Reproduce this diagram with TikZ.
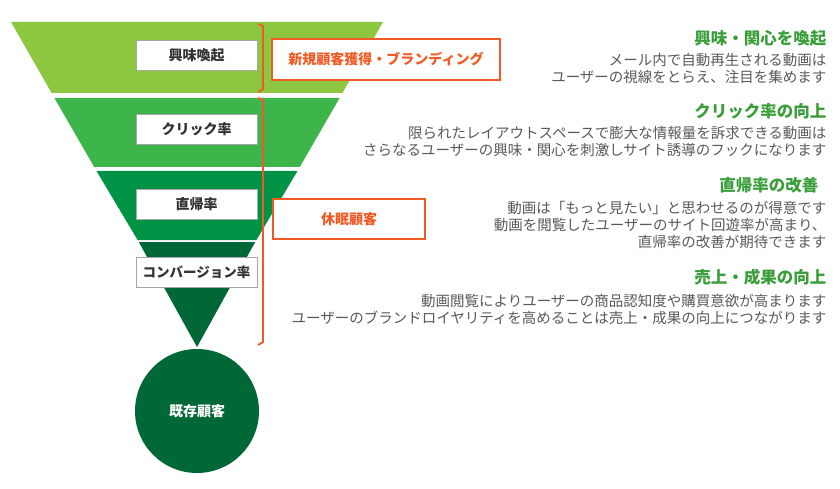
\documentclass[tikz,border=0pt]{standalone}
\usepackage{fontspec}
\setmainfont{Noto Sans CJK JP}
\begin{document}
\begin{tikzpicture}[x=1pt,y=-1pt,
  lbl/.style={draw=black!35,fill=white,line width=0.8pt,minimum width=121pt,minimum height=30pt,inner sep=0pt,font=\fontsize{14}{16}\selectfont\bfseries,text=black!80},
  obox/.style={draw=orng,line width=1.2pt,fill=white,inner sep=0pt,font=\fontsize{14}{16}\selectfont\bfseries,text=orng},
  head/.style={anchor=east,font=\fontsize{16.5}{18}\selectfont\bfseries,text=hgreen},
  body/.style={anchor=east,align=right,font=\fontsize{14.5}{17}\selectfont,text=black!65},
  brk/.style={draw=orng,line width=1.8pt}]
\definecolor{g1}{HTML}{8DC63F}\definecolor{g2}{HTML}{3DB54A}
\definecolor{g3}{HTML}{009245}\definecolor{g4}{HTML}{006837}
\definecolor{orng}{HTML}{F15A24}\definecolor{hgreen}{HTML}{3A9E3A}
\useasboundingbox (0,0) rectangle (840,489);
\fill[g1] (11,22) -- (383,22) -- (342.4,93) -- (51.6,93) -- cycle;
\fill[g2] (54.4,98) -- (339.6,98) -- (299.8,167) -- (94.2,167) -- cycle;
\fill[g3] (96.5,171) -- (297.5,171) -- (256.4,240) -- (137.6,240) -- cycle;
\fill[g4] (138.8,242) -- (255.2,242) -- (197,347) -- cycle;
\fill[g4] (197,411) circle (62);
\node[text=white,font=\fontsize{14}{16}\selectfont\bfseries] (kizon) at (197,411) {既存顧客};
\node[lbl] (l1) at (196.5,55) {興味喚起};
\node[lbl] (l2) at (196.5,129) {クリック率};
\node[lbl] (l3) at (196.5,204) {直帰率};
\node[lbl,font=\fontsize{13.5}{16}\selectfont\bfseries] (l4) at (196.5,272) {コンバージョン率};
\draw[brk] (258,24) -- (263,26) -- (263,89) -- (258,92);
\draw[brk] (258,98) -- (263,100) -- (263,342) -- (258,345);
\node[obox,minimum width=228pt,minimum height=41pt] (o1) at (386,59.5) {新規顧客獲得・ブランディング};
\node[obox,minimum width=152pt,minimum height=40pt] (o2) at (349,219) {休眠顧客};
\node[head] (h1) at (830,38) {興味・関心を喚起};
\node[body] (b1) at (830,68) {メール内で自動再生される動画は\\ユーザーの視線をとらえ、注目を集めます};
\node[head] (h2) at (830,111) {クリック率の向上};
\node[body] (b2) at (830,142) {限られたレイアウトスペースで膨大な情報量を訴求できる動画は\\さらなるユーザーの興味・関心を刺激しサイト誘導のフックになります};
\node[head] (h3) at (822,185) {直帰率の改善};
\node[body] (b3) at (830,225) {動画は「もっと見たい」と思わせるのが得意です\\動画を閲覧したユーザーのサイト回遊率が高まり、\\直帰率の改善が期待できます};
\node[head] (h4) at (830,277) {売上・成果の向上};
\node[body] (b4) at (830,309) {動画閲覧によりユーザーの商品認知度や購買意欲が高まります\\ユーザーのブランドロイヤリティを高めることは売上・成果の向上につながります};
\end{tikzpicture}
\end{document}
